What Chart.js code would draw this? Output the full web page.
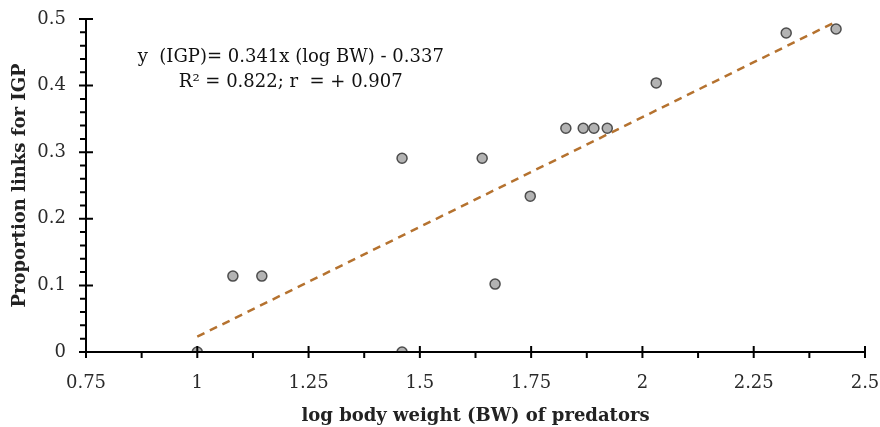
<!DOCTYPE html>
<html>
<head>
<meta charset="utf-8">
<script src="https://cdn.jsdelivr.net/npm/chart.js@4"></script>
<style>
  html, body { margin: 0; padding: 0; background: #fff; }
  #wrap { width: 880px; height: 427px; position: relative; }
</style>
</head>
<body>
<div id="wrap"><canvas id="igpChart"></canvas></div>
<script>
// log body weight of predators and proportion of links for IGP
var logBW = [1.0, 1.08, 1.145, 1.46, 1.46, 1.64, 1.669, 1.748, 1.828, 1.867, 1.891, 1.921, 2.031, 2.323, 2.435]
var propIGP = [0, 0.114, 0.114, 0.291, 0, 0.291, 0.102, 0.234, 0.336, 0.336, 0.336, 0.336, 0.404, 0.479, 0.485]

// trend line end points as drawn
var trendX = [1.0, 2.435]
var trendY = [0.023, 0.496]

var xTicks = [0.75, 1, 1.25, 1.5, 1.75, 2, 2.25, 2.5]
var yTicks = [0, 0.1, 0.2, 0.3, 0.4, 0.5]

var eqLines = ['y  (IGP)= 0.341x (log BW) - 0.337', 'R² = 0.822; r  = + 0.907']

var serif = "'DejaVu Serif', serif"

function pairs(xs, ys) {
    return xs.map(function (x, i) { return { x: x, y: ys[i] } })
}

// axis lines with major/minor tick marks like the original figure
var axesPlugin = {
    id: 'axesPlugin',
    afterDatasetsDraw: function (chart) {
        var ctx = chart.ctx
        var xs = chart.scales.x, ys = chart.scales.y
        var x0 = xs.getPixelForValue(0.75), x1 = xs.getPixelForValue(2.5)
        var y0 = ys.getPixelForValue(0), y1 = ys.getPixelForValue(0.5)
        ctx.save()
        ctx.strokeStyle = '#000'
        ctx.lineWidth = 2
        ctx.beginPath()
        ctx.moveTo(x0, y0); ctx.lineTo(x1, y0)
        ctx.moveTo(x0, y0); ctx.lineTo(x0, y1)
        var i, p
        for (i = 0; i <= 14; i++) {
            p = xs.getPixelForValue(0.75 + i * 0.125)
            if (i % 2 === 0) { ctx.moveTo(p, y0 - 6); ctx.lineTo(p, y0 + 6) }
            else { ctx.moveTo(p, y0); ctx.lineTo(p, y0 + 6) }
        }
        for (i = 0; i <= 25; i++) {
            p = ys.getPixelForValue(i * 0.02)
            if (i % 5 === 0) { ctx.moveTo(x0 - 7, p); ctx.lineTo(x0 + 7, p) }
            else { ctx.moveTo(x0 - 6, p); ctx.lineTo(x0, p) }
        }
        ctx.stroke()

        // regression equation
        ctx.fillStyle = '#111'
        ctx.font = '18px ' + serif
        ctx.textAlign = 'center'
        ctx.textBaseline = 'middle'
        var cx = xs.getPixelForValue(1.21)
        ctx.fillText(eqLines[0], cx, ys.getPixelForValue(0.443))
        ctx.fillText(eqLines[1], cx, ys.getPixelForValue(0.405))
        ctx.restore()
    }
}

var ctx = document.getElementById('igpChart').getContext('2d')

var igpChart = new Chart(ctx, {
    type: 'scatter',
    data: {
        datasets: [{
            label: 'IGP',
            data: pairs(logBW, propIGP),
            backgroundColor: '#b3b3b3',
            borderColor: '#4d4d4d',
            borderWidth: 1.5,
            pointRadius: 5,
            order: 1
        }, {
            label: 'trend',
            type: 'line',
            data: pairs(trendX, trendY),
            borderColor: '#b5722f',
            borderWidth: 2.5,
            borderDash: [8, 6],
            pointRadius: 0,
            fill: false,
            order: 2
        }]
    },
    options: {
        responsive: true,
        maintainAspectRatio: false,
        animation: false,
        layout: { padding: { top: 19, right: 0, bottom: 0, left: 0 } },
        plugins: {
            legend: { display: false },
            tooltip: { enabled: false }
        },
        scales: {
            x: {
                type: 'linear',
                min: 0.75,
                max: 2.5,
                afterBuildTicks: function (axis) {
                    axis.ticks = xTicks.map(function (v) { return { value: v } })
                },
                afterFit: function (axis) {
                    axis.height = 75
                    axis.paddingLeft = 0
                    axis.paddingRight = 15
                },
                grid: { display: false },
                border: { display: false },
                ticks: {
                    color: '#2a2a2a',
                    padding: 13,
                    font: { family: serif, size: 18 },
                    maxRotation: 0,
                    callback: function (v) { return String(v) }
                },
                title: {
                    display: true,
                    text: 'log body weight (BW) of predators',
                    color: '#222',
                    font: { family: serif, size: 18, weight: 'bold' },
                    padding: { top: 2, bottom: 0 }
                }
            },
            y: {
                type: 'linear',
                min: 0,
                max: 0.5,
                afterBuildTicks: function (axis) {
                    axis.ticks = yTicks.map(function (v) { return { value: v } })
                },
                afterFit: function (axis) {
                    axis.width = 86
                    axis.paddingTop = 0
                    axis.paddingBottom = 0
                },
                grid: { display: false },
                border: { display: false },
                ticks: {
                    color: '#2a2a2a',
                    padding: 12,
                    font: { family: serif, size: 18 },
                    callback: function (v) { return String(v) }
                },
                title: {
                    display: true,
                    text: 'Proportion links for IGP',
                    color: '#222',
                    font: { family: serif, size: 18, weight: 'bold' },
                    padding: { top: 10, bottom: 2 }
                }
            }
        }
    },
    plugins: [axesPlugin]
})
</script>
</body>
</html>
